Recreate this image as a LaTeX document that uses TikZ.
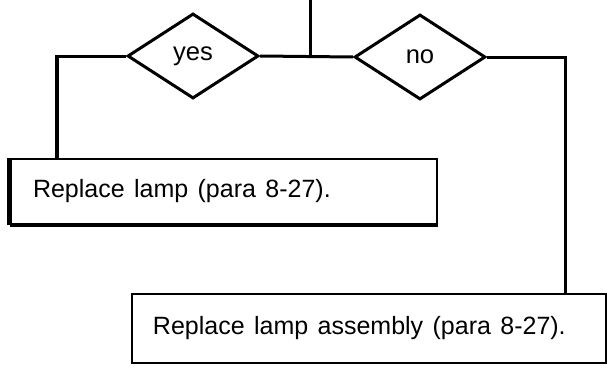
\documentclass[tikz,border=0pt]{standalone}
\usepackage{fontspec}
\setmainfont{Liberation Sans}
\usetikzlibrary{shapes.geometric}
\begin{document}
\begin{tikzpicture}[x=0.5pt,y=-0.5pt,
  conn/.style={line width=1.5pt},
  dec/.style={draw, diamond, line width=1.5pt, inner sep=0pt, minimum width=65.5pt, minimum height=42.5pt, font=\fontsize{12.8}{14}\selectfont},
  actbox/.style={draw, rectangle, line width=1pt, anchor=north west, align=left, inner ysep=0pt,
    font=\fontsize{12.5}{14}\selectfont, execute at begin node={\spaceskip=0.376em\relax}}]
\useasboundingbox (0,0) rectangle (607,370);
\node[dec] (yes) at (193,56) {yes};
\node[dec] (no) at (420,57) {no};
\node[actbox, text width=191pt, inner xsep=11pt, minimum height=32.5pt] (b1) at (10,158) {Replace lamp (para 8-27).};
\node[actbox, text width=216pt, inner xsep=10.5pt, minimum height=34.5pt] (b2) at (131,293) {Replace lamp assembly (para 8-27).};
\draw[line width=2.5pt] (b1.north west) -- (b1.south west);
\draw[line width=1.5pt] (b1.south west) -- (b1.south east);
\coordinate (top) at (310,0);
\coordinate (j) at (310,56);
\coordinate (lc) at (57,56);
\coordinate (rc) at (565,57);
\draw[conn] (top) -- (j);
\draw[conn] (yes.east) -- (no.west);
\draw[conn] (yes.west) -- (lc) -- (lc |- b1.north);
\draw[conn] (no.east) -- (rc) -- (rc |- b2.north);
\end{tikzpicture}
\end{document}
